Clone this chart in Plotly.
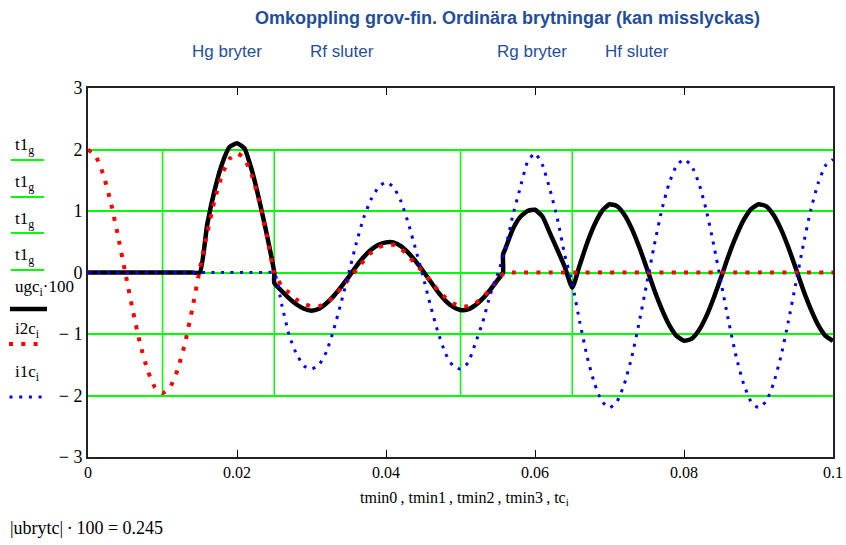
import plotly.graph_objects as go

# ---------------------------------------------------------------------------
# Data
# ---------------------------------------------------------------------------
# break voltage (scaled) reported below the plot, also the kink of ugc at Hf sluter
ubrytc_x100 = 0.245

# switching instants used for the green marker lines
tmin = [0.010, 0.025, 0.050, 0.065]
t1g = [-2.0, 2.0]

# sample times (s)
tc = [
    0.000, 0.001, 0.002, 0.003, 0.004, 0.005, 0.006, 0.007, 0.008, 0.009,
    0.010, 0.011, 0.012, 0.013, 0.014, 0.015, 0.016, 0.017, 0.018, 0.019,
    0.020, 0.021, 0.022, 0.023, 0.024, 0.025, 0.026, 0.027, 0.028, 0.029,
    0.030, 0.031, 0.032, 0.033, 0.034, 0.035, 0.036, 0.037, 0.038, 0.039,
    0.040, 0.041, 0.042, 0.043, 0.044, 0.045, 0.046, 0.047, 0.048, 0.049,
    0.050, 0.051, 0.052, 0.053, 0.054, 0.055, 0.056, 0.057, 0.058, 0.059,
    0.060, 0.061, 0.062, 0.063, 0.064, 0.065, 0.066, 0.067, 0.068, 0.069,
    0.070, 0.071, 0.072, 0.073, 0.074, 0.075, 0.076, 0.077, 0.078, 0.079,
    0.080, 0.081, 0.082, 0.083, 0.084, 0.085, 0.086, 0.087, 0.088, 0.089,
    0.090, 0.091, 0.092, 0.093, 0.094, 0.095, 0.096, 0.097, 0.098, 0.099,
    0.100,
]

# current i2c (on tc)
i2c = [
    2.00, 1.90, 1.61, 1.17, 0.61, 0.00, -0.61, -1.16, -1.59, -1.87,
    -1.96, -1.87, -1.59, -1.16, -0.59, 0.05, 0.64, 1.18, 1.59, 1.85,
    1.94, 1.85, 1.58, 1.15, 0.60, 0.00, -0.22, -0.33, -0.44, -0.51,
    -0.55, -0.55, -0.49, -0.39, -0.25, -0.11, 0.04, 0.19, 0.32, 0.41,
    0.45, 0.45, 0.39, 0.27, 0.13, 0.01, -0.14, -0.29, -0.41, -0.50,
    -0.55, -0.55, -0.50, -0.40, -0.27, -0.10, 0.00, 0.00, 0.00, 0.00,
    0.00, 0.00, 0.00, 0.00, 0.00, 0.00, 0.00, 0.00, 0.00, 0.00,
    0.00, 0.00, 0.00, 0.00, 0.00, 0.00, 0.00, 0.00, 0.00, 0.00,
    0.00, 0.00, 0.00, 0.00, 0.00, 0.00, 0.00, 0.00, 0.00, 0.00,
    0.00, 0.00, 0.00, 0.00, 0.00, 0.00, 0.00, 0.00, 0.00, 0.00,
    0.00,
]

# current i1c (on tc)
i1c = [
    0.00, 0.00, 0.00, 0.00, 0.00, 0.00, 0.00, 0.00, 0.00, 0.00,
    0.00, 0.00, 0.00, 0.00, 0.00, 0.00, 0.00, 0.00, 0.00, 0.00,
    0.00, 0.00, 0.00, 0.00, 0.00, 0.00, -0.52, -1.02, -1.33, -1.52,
    -1.57, -1.50, -1.29, -0.92, -0.48, -0.01, 0.47, 0.89, 1.19, 1.39,
    1.47, 1.39, 1.16, 0.80, 0.37, -0.08, -0.55, -0.98, -1.32, -1.52,
    -1.57, -1.47, -1.15, -0.80, -0.36, -0.02, 0.37, 0.92, 1.37, 1.80,
    1.94, 1.75, 1.35, 0.88, 0.28, -0.18, -0.80, -1.37, -1.81, -2.10,
    -2.20, -2.10, -1.81, -1.37, -0.80, -0.18, 0.44, 1.01, 1.45, 1.74,
    1.84, 1.74, 1.45, 1.01, 0.44, -0.18, -0.80, -1.37, -1.81, -2.10,
    -2.20, -2.10, -1.81, -1.37, -0.80, -0.18, 0.44, 1.01, 1.45, 1.74,
    1.84,
]

# capacitor voltage ugc * 100, with extra samples at the switching jumps
t_ugc = [
    0.000, 0.001, 0.002, 0.003, 0.004, 0.005, 0.006, 0.007, 0.008, 0.009,
    0.010, 0.011, 0.012, 0.013, 0.014, 0.015, 0.016, 0.017, 0.018, 0.019,
    0.020, 0.021, 0.022, 0.023, 0.024, 0.025, 0.025, 0.026, 0.027, 0.028,
    0.029, 0.030, 0.031, 0.032, 0.033, 0.034, 0.035, 0.036, 0.037, 0.038,
    0.039, 0.040, 0.041, 0.042, 0.043, 0.044, 0.045, 0.046, 0.047, 0.048,
    0.049, 0.050, 0.051, 0.052, 0.053, 0.054, 0.055, 0.0557, 0.0557, 0.056,
    0.057, 0.058, 0.059, 0.060, 0.061, 0.062, 0.063, 0.064, 0.065, 0.066,
    0.067, 0.068, 0.069, 0.070, 0.071, 0.072, 0.073, 0.074, 0.075, 0.076,
    0.077, 0.078, 0.079, 0.080, 0.081, 0.082, 0.083, 0.084, 0.085, 0.086,
    0.087, 0.088, 0.089, 0.090, 0.091, 0.092, 0.093, 0.094, 0.095, 0.096,
    0.097, 0.098, 0.099, 0.100,
]
ugc100 = [
    0.00, 0.00, 0.00, 0.00, 0.00, 0.00, 0.00, 0.00, 0.00, 0.00,
    0.00, 0.00, 0.00, 0.00, 0.00, 0.00, 0.78, 1.34, 1.77, 2.04,
    2.10, 2.02, 1.66, 1.17, 0.62, 0.00, -0.17, -0.30, -0.42, -0.52,
    -0.59, -0.62, -0.59, -0.50, -0.38, -0.23, -0.07, 0.10, 0.25, 0.37,
    0.45, 0.49, 0.49, 0.43, 0.32, 0.18, 0.02, -0.15, -0.32, -0.46,
    -0.56, -0.61, -0.60, -0.53, -0.42, -0.28, -0.12, 0.00, 0.29, 0.38,
    0.70, 0.90, 1.00, 1.02, 0.91, 0.64, 0.37, 0.09, -ubrytc_x100, 0.12,
    0.48, 0.78, 1.00, 1.11, 1.08, 0.94, 0.71, 0.41, 0.07, -0.28,
    -0.59, -0.85, -1.03, -1.11, -1.08, -0.94, -0.71, -0.41, -0.07, 0.28,
    0.59, 0.85, 1.03, 1.11, 1.08, 0.94, 0.71, 0.41, 0.07, -0.28,
    -0.59, -0.85, -1.03, -1.11,
]

x_ticks = [0, 0.02, 0.04, 0.06, 0.08, 0.1]
x_ticktext = ["0", "0.02", "0.04", "0.06", "0.08", "0.1"]
y_ticks = [-3, -2, -1, 0, 1, 2, 3]
y_ticktext = ["\u2212 3", "\u2212 2", "\u2212 1", "0", "1", "2", "3"]

title_text = "Omkoppling grov-fin. Ordinära brytningar (kan misslyckas)"
event_labels = ["Hg bryter", "Rf sluter", "Rg bryter", "Hf sluter"]

# ---------------------------------------------------------------------------
# Styles / layout helpers
# ---------------------------------------------------------------------------
W, H = 846, 545
ML, MR, MT, MB = 88, 13, 88, 88
PW, PH = W - ML - MR, H - MT - MB

GREEN = "#00FF00"
BLUE_TXT = "#1F4E9E"
SERIF = "Liberation Serif, Times New Roman, serif"
SANS = "Liberation Sans, Arial, sans-serif"


def px(x, y):
    """pixel position in the page -> paper coordinates"""
    return (x - ML) / PW, (H - MB - y) / PH


fig = go.Figure()

# green switching-instant markers (tmin_k against t1g)
gx, gy = [], []
for tm in tmin:
    gx += [tm, tm, None]
    gy += [t1g[0], t1g[1], None]
fig.add_trace(go.Scatter(x=gx, y=gy, mode="lines",
                         line=dict(color=GREEN, width=1.5),
                         hoverinfo="skip", showlegend=False))

# ugc * 100
fig.add_trace(go.Scatter(x=t_ugc, y=ugc100, mode="lines",
                         line=dict(color="black", width=4.5, shape="spline", smoothing=0.5),
                         showlegend=False))
# i2c
fig.add_trace(go.Scatter(x=tc, y=i2c, mode="lines",
                         line=dict(color="#FF0000", width=4, dash="4px,8.3px",
                                   shape="spline", smoothing=0.5),
                         showlegend=False))
# i1c
fig.add_trace(go.Scatter(x=tc, y=i1c, mode="lines",
                         line=dict(color="#0000FF", width=3, dash="3px,6.5px",
                                   shape="spline", smoothing=0.5),
                         showlegend=False))

annotations = []
shapes = []

# title and event labels
tx, ty = px(507, 18)
annotations.append(dict(x=tx, y=ty, xref="paper", yref="paper", text=f"<b>{title_text}</b>",
                        showarrow=False, xanchor="center", yanchor="middle",
                        font=dict(family=SANS, size=18, color=BLUE_TXT)))
for lab, cx in zip(event_labels, [226.5, 341.7, 531.5, 636.5]):
    ex, ey = px(cx, 51)
    annotations.append(dict(x=ex, y=ey, xref="paper", yref="paper", text=lab,
                            showarrow=False, xanchor="center", yanchor="middle",
                            font=dict(family=SANS, size=17, color=BLUE_TXT)))

# x axis caption
cx, cy = px(464, 498)
annotations.append(dict(x=cx, y=cy, xref="paper", yref="paper",
                        text="tmin0\u2009, tmin1\u2009, tmin2\u2009, tmin3\u2009, tc<sub>i</sub>",
                        showarrow=False, xanchor="center", yanchor="middle",
                        font=dict(family=SERIF, size=16, color="black")))

# result line under the plot
rx, ry = px(8, 528)
annotations.append(dict(x=rx, y=ry, xref="paper", yref="paper",
                        text=f"|ubrytc|\u2009\u00b7\u2009100 = {ubrytc_x100}",
                        showarrow=False, xanchor="left", yanchor="middle",
                        font=dict(family=SERIF, size=18, color="black")))

# trace key on the left
key_items = [
    ("t1<sub>g</sub>", 146, 160, dict(color=GREEN, width=2), 11, 44),
    ("t1<sub>g</sub>", 183, 197, dict(color=GREEN, width=2), 11, 44),
    ("t1<sub>g</sub>", 220, 233, dict(color=GREEN, width=2), 11, 44),
    ("t1<sub>g</sub>", 256, 270, dict(color=GREEN, width=2), 11, 44),
    ("ugc<sub>i</sub>\u00b7100", 288, 309, dict(color="black", width=4.5), 10, 47),
    ("i2c<sub>i</sub>", 330, 344, dict(color="#FF0000", width=4, dash="4px,8.3px"), 9, 38),
    ("i1c<sub>i</sub>", 373, 397, dict(color="#0000FF", width=3, dash="3px,6.7px"), 9.5, 42),
]
for text, ty_txt, ty_line, lstyle, x0, x1 in key_items:
    ax, ay = px(13, ty_txt)
    annotations.append(dict(x=ax, y=ay, xref="paper", yref="paper", text=text,
                            showarrow=False, xanchor="left", yanchor="middle",
                            font=dict(family=SERIF, size=17, color="black")))
    sx0, sy = px(x0, ty_line)
    sx1, _ = px(x1, ty_line)
    shapes.append(dict(type="line", xref="paper", yref="paper",
                       x0=sx0, x1=sx1, y0=sy, y1=sy, line=lstyle))

fig.update_layout(
    width=W, height=H,
    margin=dict(l=ML, r=MR, t=MT, b=MB, autoexpand=False),
    paper_bgcolor="white", plot_bgcolor="white",
    showlegend=False,
    annotations=annotations,
    shapes=shapes,
)
fig.update_xaxes(
    range=[0, 0.1], tickvals=x_ticks, ticktext=x_ticktext,
    ticks="inside", ticklen=7, tickwidth=1, tickcolor="black",
    showline=True, linecolor="#222", linewidth=2, mirror="ticks",
    showgrid=False, zeroline=False, automargin=False,
    tickfont=dict(family=SERIF, size=16, color="black"),
)
fig.update_yaxes(
    range=[-3, 3], tickvals=y_ticks, ticktext=y_ticktext,
    ticks="", showline=True, linecolor="#222", linewidth=2, mirror=True,
    showgrid=True, gridcolor=GREEN, gridwidth=1.5, zeroline=False, automargin=False,
    tickfont=dict(family=SERIF, size=18, color="black"),
)

fig.write_html("out.html")
